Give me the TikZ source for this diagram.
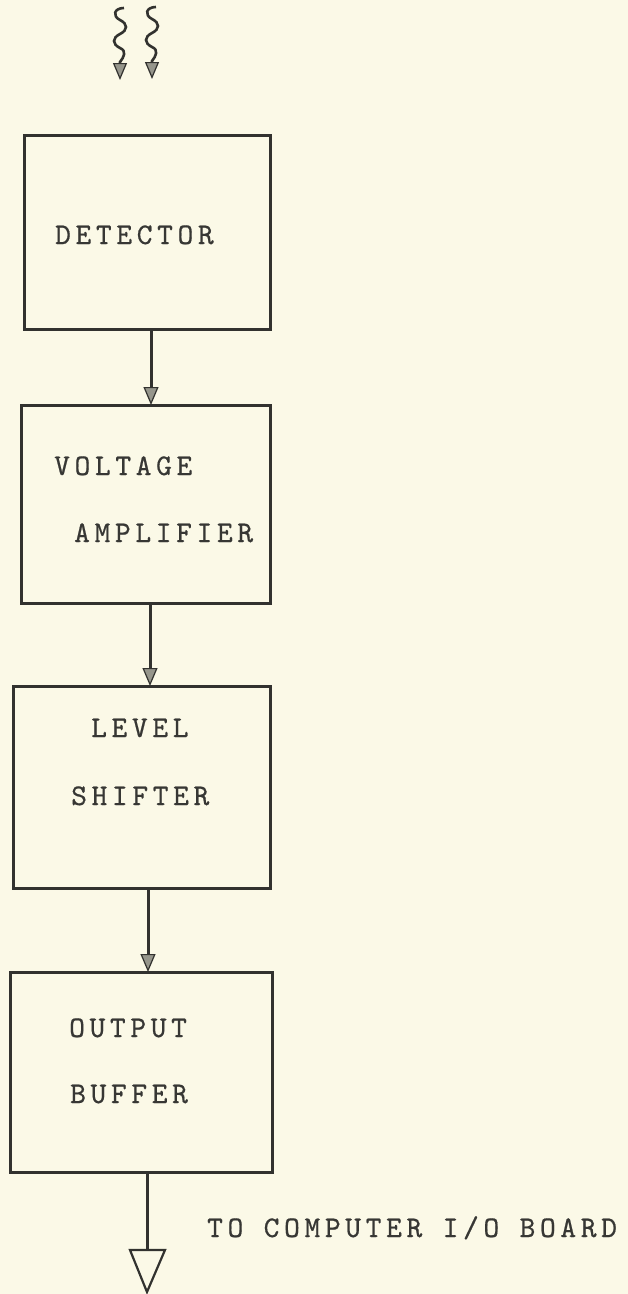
\documentclass[tikz,border=0pt]{standalone}
\usepackage{fontspec}
\usetikzlibrary{arrows.meta}
\newfontfamily\tw{lmmono10-regular.otf}[LetterSpace=15.5,FakeBold=0.6]
\definecolor{paper}{RGB}{251,249,231}
\definecolor{ink}{RGB}{50,50,47}
\definecolor{txt}{RGB}{55,55,52}
\definecolor{tipfill}{RGB}{150,150,140}
\begin{document}
\begin{tikzpicture}[x=1pt,y=-1pt,
  box/.style={draw=ink, line width=3pt, rectangle, inner sep=0pt, outer sep=0pt, anchor=north west},
  lbl/.style={anchor=base west, inner sep=0pt, text=txt, font=\tw\fontsize{30}{30}\selectfont},
  conn/.style={draw=ink, line width=3pt, -{Triangle[width=15pt,length=18pt,fill=tipfill,line width=1.2pt]}},
  wavy/.style={draw=ink, line width=2.6pt, -{Triangle[width=14pt,length=17pt,fill=tipfill,line width=1.2pt]}},
  plain/.style={draw=ink, line width=3pt}
]
\fill[paper] (0,0) rectangle (628,1294);
\useasboundingbox (0,0) rectangle (628,1294);

% boxes
\node[box, minimum width=246pt, minimum height=194pt] (det) at (24,135) {};
\node[box, minimum width=249pt, minimum height=198pt] (volt) at (21,405) {};
\node[box, minimum width=257pt, minimum height=202pt] (lev) at (13,686) {};
\node[box, minimum width=262pt, minimum height=200pt] (outb) at (10,972) {};

% labels
\node[lbl] (tdet) at (55,244) {DETECTOR};
\node[lbl] (tvolt) at (54,475) {VOLTAGE};
\node[lbl] (tamp) at (74,542) {AMPLIFIER};
\node[lbl] (tlev) at (91,737) {LEVEL};
\node[lbl] (tshf) at (71,805) {SHIFTER};
\node[lbl] (tout) at (69,1037) {OUTPUT};
\node[lbl] (tbuf) at (70,1103) {BUFFER};
\node[lbl] (tcomp) at (207,1237) {TO COMPUTER I/O BOARD};

% connector columns
\coordinate (c1) at (151,0);
\coordinate (c2) at (150,0);
\coordinate (c3) at (148,0);
\coordinate (c4) at (147,0);
\draw[conn] (det.south -| c1) -- (volt.north -| c1);
\draw[conn] (volt.south -| c2) -- (lev.north -| c2);
\draw[conn] (lev.south -| c3) -- (outb.north -| c3);

% output line and open triangle
\coordinate (tritop) at (147,1250);
\draw[plain] (outb.south -| c4) -- (tritop);
\draw[draw=ink, line width=2.2pt, line join=miter] (130,1250) -- (165,1250) -- (147,1292) -- cycle;

% incoming wavy arrows
\coordinate (wa) at (120,8);
\coordinate (wb) at (152,7);
\foreach \w in {wa,wb}{
  \begin{scope}[shift={(\w)}]
    \draw[wavy] (4,0) .. controls (-6,0) and (-8,8) .. (0,12)
      .. controls (8,16) and (8,22) .. (0,26)
      .. controls (-8,30) and (-8,36) .. (0,40)
      .. controls (7,43) and (4,49) .. (0,54) -- (0,72);
  \end{scope}
}
\end{tikzpicture}
\end{document}
